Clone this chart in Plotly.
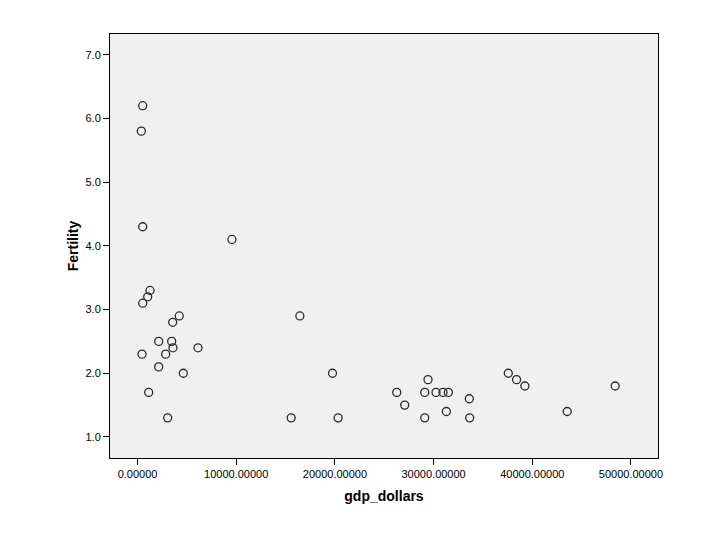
import plotly.graph_objects as go

## DATA
gdp_dollars = [525, 385, 525, 9565, 1265, 1030, 525, 4230, 3560, 16450,
               2145, 3460, 3590, 6125, 455, 2850, 2145, 4640, 19755, 1130,
               3055, 15570, 20325, 26265, 27075, 29100, 29435, 29100, 30245,
               30955, 31495, 31295, 33620, 33655, 37570, 38410, 39250, 43540,
               48400]
fertility = [6.2, 5.8, 4.3, 4.1, 3.3, 3.2, 3.1, 2.9, 2.8, 2.9,
             2.5, 2.5, 2.4, 2.4, 2.3, 2.3, 2.1, 2.0, 2.0, 1.7,
             1.3, 1.3, 1.3, 1.7, 1.5, 1.7, 1.9, 1.3, 1.7,
             1.7, 1.7, 1.4, 1.6, 1.3, 2.0, 1.9, 1.8, 1.4,
             1.8]

x_ticks = [0, 10000, 20000, 30000, 40000, 50000]
y_ticks = [1, 2, 3, 4, 5, 6, 7]

## PLOT
fig = go.Figure()
fig.add_trace(go.Scatter(
    x=gdp_dollars, y=fertility, mode="markers",
    marker=dict(symbol="circle-open", size=8, color="#2b2b2b",
                line=dict(width=1.3, color="#2b2b2b")),
    showlegend=False,
))

axis_style = dict(showline=True, linecolor="black", linewidth=1, mirror=True,
                  ticks="outside", ticklen=6, tickcolor="black", tickwidth=1,
                  showgrid=False, zeroline=False,
                  tickfont=dict(family="Arial, Liberation Sans", size=11, color="black"))

fig.update_xaxes(axis_style, range=[-2790, 52740], tickvals=x_ticks, tickformat=".5f",
                 title=dict(text="<b>gdp_dollars</b>", standoff=11,
                            font=dict(family="Arial, Liberation Sans", size=14, color="black")))
fig.update_yaxes(axis_style, range=[0.67, 7.325], tickvals=y_ticks, tickformat=".1f",
                 title=dict(text="<b>Fertility</b>", standoff=3,
                            font=dict(family="Arial, Liberation Sans", size=14, color="black")))

# page has an 8px body margin, so shift margins to land the plot box in place
fig.update_layout(width=720, height=540, paper_bgcolor="white", plot_bgcolor="#f0f0f0",
                  margin=dict(l=102, r=70, t=26, b=90))

fig.write_html("out.html")
